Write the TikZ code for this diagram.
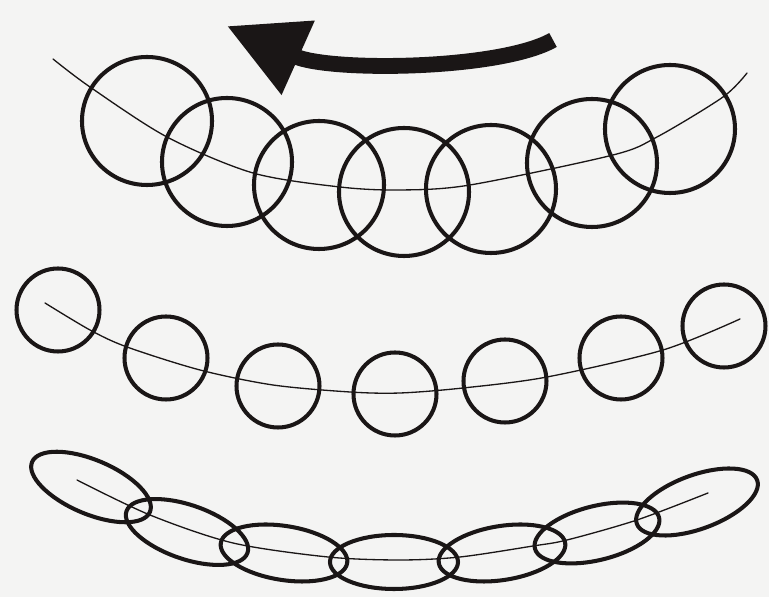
\documentclass[tikz,border=0pt]{standalone}
\usepackage{xcolor}
\usepackage{tikz}
\usetikzlibrary{arrows.meta}

\definecolor{paper}{RGB}{244,244,243}
\definecolor{ink}{RGB}{26,22,22}

\begin{document}
\begin{tikzpicture}[x=0.02cm, y=-0.02cm, line cap=round, line join=round,
    ring/.style={draw=ink, line width=2.3pt},
    guide/.style={draw=ink, line width=0.75pt}]

    % Paper
    \fill[paper] (0,0) rectangle (769,597);

    % Turning arrow
    \draw[ink, line width=9pt, line cap=butt, -{Triangle[length=1.56cm, width=1.54cm]}]
        (553,40) .. controls (500,70) and (330,72) .. (227,26);

    % Top row: guide curve
    \draw[guide] plot[smooth] coordinates {
        (53,59) (90,87) (167,137) (253,173) (340,187) (400,190)
        (470,185) (613,155) (657,137) (723,97) (747,73)};

    % Top row: overlapping rings
    \foreach \x/\y in {
        147/121,
        227/162,
        319/185,
        404/192,
        491/189,
        592/163,
        670/129
    }{
        \draw[ring] (\x,\y) ellipse (65 and 64);
    }

    % Middle row: guide curve
    \draw[guide] plot[smooth] coordinates {
        (45,303) (90,330) (127,347) (200,370) (273,385) (350,392)
        (400,393) (463,388) (547,377) (663,350) (740,319)};

    % Middle row: separate rings
    \foreach \x/\y in {
        58/310,
        166/358,
        278/386,
        395/394,
        505/381,
        621/358,
        724/326
    }{
        \draw[ring] (\x,\y) circle (41.5);
    }

    % Bottom row: guide curve
    \draw[guide] plot[smooth] coordinates {
        (77,480) (150,515) (233,543) (328,557) (400,560)
        (460,557) (533,546) (567,540) (637,520) (708,493)};

    % Bottom row: flattened rings
    \foreach \x/\y/\a in {
        91/487/-23,
        187/532/-19,
        284/553/-9,
        394/562/0,
        502/553/9,
        597/533/14,
        697/502/20
    }{
        \draw[ring, rotate around={\a:(\x,\y)}] (\x,\y) ellipse (64 and 27);
    }

\end{tikzpicture}
\end{document}
